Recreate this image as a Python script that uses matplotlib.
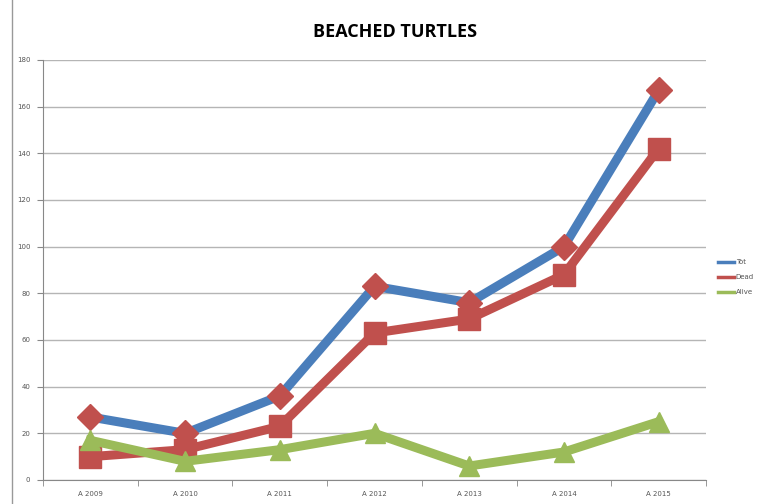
import matplotlib
matplotlib.use("Agg")
import matplotlib.pyplot as plt
from matplotlib.lines import Line2D

categories = ["A 2009", "A 2010", "A 2011", "A 2012", "A 2013", "A 2014", "A 2015"]
tot = [27, 20, 36, 83, 76, 100, 167]
dead = [10, 13, 23, 63, 69, 88, 142]
alive = [17, 8, 13, 20, 6, 12, 25]
series_names = ["Tot", "Dead", "Alive"]
y_ticks = list(range(0, 181, 20))

W, H = 769, 504
fig = plt.figure(figsize=(W / 100, H / 100), dpi=100)
ax = fig.add_axes([43 / W, 1 - 480 / H, (706 - 43) / W, (480 - 60) / H])

blue = "#4A7EBB"
red = "#C0504D"
green = "#9BBB59"
x = list(range(len(categories)))

ax.plot(x, tot, color=blue, lw=6.5, marker="D", markersize=13,
        markerfacecolor=red, markeredgecolor=red, label=series_names[0], zorder=3)
ax.plot(x, dead, color=red, lw=6.5, marker="s", markersize=16,
        markerfacecolor=red, markeredgecolor=red, label=series_names[1], zorder=4)
ax.plot(x, alive, color=green, lw=6.5, marker="^", markersize=15,
        markerfacecolor=green, markeredgecolor=green, label=series_names[2], zorder=5)

ax.set_xlim(-0.5, len(categories) - 0.5)
ax.set_ylim(0, 180)
ax.set_yticks(y_ticks)
ax.set_yticklabels([str(v) for v in y_ticks], fontsize=5, color="#555555")
ax.set_xticks(x)
ax.set_xticklabels(categories, fontsize=5, color="#555555")
ax.set_xticks([i - 0.5 for i in range(len(categories) + 1)], minor=True)
ax.tick_params(axis="x", which="major", length=0, pad=8)
ax.tick_params(axis="x", which="minor", length=4, color="#888888")
ax.tick_params(axis="y", length=4, color="#888888", pad=5)
ax.grid(axis="y", color="#B5B5B5", lw=1)
ax.set_axisbelow(True)
for s in ["top", "right"]:
    ax.spines[s].set_visible(False)
ax.spines["left"].set_color("#888888")
ax.spines["bottom"].set_color("#888888")

fig.text(395 / W, 1 - 32 / H, "BEACHED TURTLES", ha="center", va="center",
         fontsize=13, fontweight="bold", family="Open Sans")

handles = [Line2D([0], [0], color=c, lw=2.5) for c in (blue, red, green)]
leg = fig.legend(handles, series_names, loc="center left",
                 bbox_to_anchor=(712 / W, 1 - 277 / H), frameon=False,
                 fontsize=5, handlelength=2.2, labelspacing=1.3, handletextpad=0.3)
for t in leg.get_texts():
    t.set_color("#555555")

fig.add_artist(Line2D([12 / W, 12 / W], [0, 1], color="#999999", lw=1,
                      transform=fig.transFigure))

fig.savefig("out.png", dpi=100, facecolor="white")
